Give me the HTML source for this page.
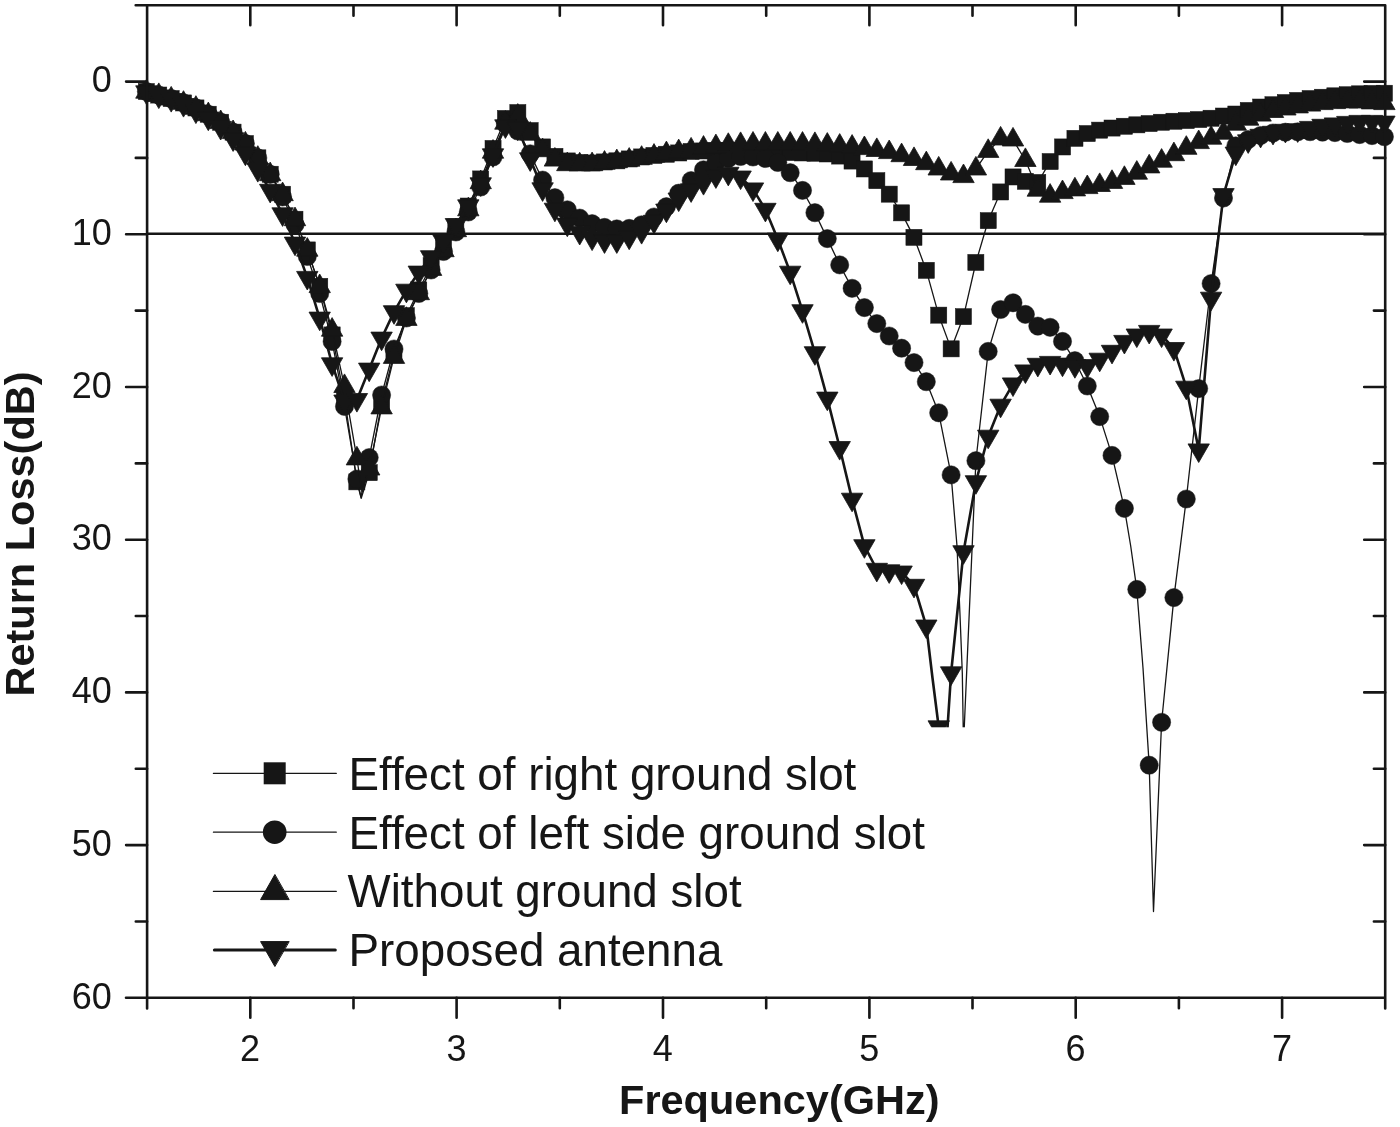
<!DOCTYPE html>
<html lang="en">
<head>
<meta charset="utf-8">
<title>Return Loss vs Frequency</title>
<style>html,body{margin:0;padding:0;background:#fff}svg{display:block}</style>
</head>
<body>
<svg width="1400" height="1127" viewBox="0 0 1400 1127">
<rect width="1400" height="1127" fill="#fff"/>
<g fill="#161616" stroke="#161616" stroke-linejoin="round">
<line x1="147.1" y1="233.7" x2="1385.2" y2="233.7" stroke-width="2.4"/>
<g id="sA"><polyline fill="none" stroke-width="1.3" points="146.4,91.5 158.8,95 171.2,98.6 183.5,102.9 195.9,107.9 208.3,114.3 220.7,122.2 233.1,132.2 245.4,143.6 257.8,157.9 270.2,174.3 282.6,194.3 295,219.3 307.3,250 319.7,286.4 332.1,335 344.5,398 356.9,481.8 361.2,498.4 369.2,472.7 381.6,403 394,354 406.4,315.7 418.8,290 431.1,265.7 443.5,247 455.9,227 468.3,206.1 480.7,179 493,148.5 505.4,118.4 517.8,112.6 530.2,130.6 542.6,147 554.9,156.4 567.3,161 579.7,162.5 592.1,163 604.5,162 616.8,160.8 629.2,159 641.6,157 654,155.5 666.4,154.3 678.7,153 691.1,151.5 703.5,151 715.9,150.5 728.3,150.5 740.6,151 753,151.5 765.4,152 777.8,152.3 790.2,152.6 802.5,153 814.9,153.3 827.3,154 839.7,156.1 852.1,161.1 864.4,169 876.8,180.7 889.2,194.2 901.6,212.9 914,237.4 926.3,270.4 938.7,315.2 951.1,348.9 963.5,316.6 975.9,262.5 988.2,220.7 1000.6,192 1013,177 1025.4,181.4 1037.8,182.5 1050.1,161.6 1062.5,147 1074.9,138.4 1087.3,133.6 1099.7,130.2 1112,128 1124.4,126.3 1136.8,124.8 1149.2,123.5 1161.6,122.3 1173.9,121.3 1186.3,120.5 1198.7,119.5 1211.1,118.3 1223.5,116.1 1235.8,114 1248.2,110.4 1260.6,107.1 1273,104.7 1285.4,102.6 1297.7,100.4 1310.1,98.6 1322.5,97.2 1334.9,95.8 1347.3,94.7 1359.6,93.8 1372,93.4 1384.4,93.2"/><g stroke-width="0.5" stroke-linejoin="miter"><rect x="138.3" y="83.5" width="16.1" height="16.1"/><rect x="150.7" y="87" width="16.1" height="16.1"/><rect x="163.1" y="90.5" width="16.1" height="16.1"/><rect x="175.5" y="94.9" width="16.1" height="16.1"/><rect x="187.9" y="99.9" width="16.1" height="16.1"/><rect x="200.2" y="106.2" width="16.1" height="16.1"/><rect x="212.6" y="114.2" width="16.1" height="16.1"/><rect x="225" y="124.1" width="16.1" height="16.1"/><rect x="237.4" y="135.5" width="16.1" height="16.1"/><rect x="249.8" y="149.8" width="16.1" height="16.1"/><rect x="262.2" y="166.2" width="16.1" height="16.1"/><rect x="274.5" y="186.2" width="16.1" height="16.1"/><rect x="286.9" y="211.2" width="16.1" height="16.1"/><rect x="299.3" y="241.9" width="16.1" height="16.1"/><rect x="311.7" y="278.3" width="16.1" height="16.1"/><rect x="324.1" y="326.9" width="16.1" height="16.1"/><rect x="336.4" y="389.9" width="16.1" height="16.1"/><rect x="348.8" y="473.8" width="16.1" height="16.1"/><rect x="361.2" y="464.6" width="16.1" height="16.1"/><rect x="373.6" y="394.9" width="16.1" height="16.1"/><rect x="385.9" y="345.9" width="16.1" height="16.1"/><rect x="398.3" y="307.6" width="16.1" height="16.1"/><rect x="410.7" y="281.9" width="16.1" height="16.1"/><rect x="423.1" y="257.6" width="16.1" height="16.1"/><rect x="435.5" y="238.9" width="16.1" height="16.1"/><rect x="447.8" y="218.9" width="16.1" height="16.1"/><rect x="460.2" y="198" width="16.1" height="16.1"/><rect x="472.6" y="170.9" width="16.1" height="16.1"/><rect x="485" y="140.4" width="16.1" height="16.1"/><rect x="497.4" y="110.4" width="16.1" height="16.1"/><rect x="509.8" y="104.5" width="16.1" height="16.1"/><rect x="522.1" y="122.5" width="16.1" height="16.1"/><rect x="534.5" y="138.9" width="16.1" height="16.1"/><rect x="546.9" y="148.3" width="16.1" height="16.1"/><rect x="559.3" y="152.9" width="16.1" height="16.1"/><rect x="571.7" y="154.4" width="16.1" height="16.1"/><rect x="584" y="154.9" width="16.1" height="16.1"/><rect x="596.4" y="153.9" width="16.1" height="16.1"/><rect x="608.8" y="152.8" width="16.1" height="16.1"/><rect x="621.2" y="150.9" width="16.1" height="16.1"/><rect x="633.6" y="148.9" width="16.1" height="16.1"/><rect x="645.9" y="147.4" width="16.1" height="16.1"/><rect x="658.3" y="146.2" width="16.1" height="16.1"/><rect x="670.7" y="144.9" width="16.1" height="16.1"/><rect x="683.1" y="143.4" width="16.1" height="16.1"/><rect x="695.5" y="142.9" width="16.1" height="16.1"/><rect x="707.8" y="142.4" width="16.1" height="16.1"/><rect x="720.2" y="142.4" width="16.1" height="16.1"/><rect x="732.6" y="142.9" width="16.1" height="16.1"/><rect x="745" y="143.4" width="16.1" height="16.1"/><rect x="757.4" y="143.9" width="16.1" height="16.1"/><rect x="769.7" y="144.2" width="16.1" height="16.1"/><rect x="782.1" y="144.5" width="16.1" height="16.1"/><rect x="794.5" y="144.9" width="16.1" height="16.1"/><rect x="806.9" y="145.2" width="16.1" height="16.1"/><rect x="819.3" y="145.9" width="16.1" height="16.1"/><rect x="831.6" y="148" width="16.1" height="16.1"/><rect x="844" y="153" width="16.1" height="16.1"/><rect x="856.4" y="160.9" width="16.1" height="16.1"/><rect x="868.8" y="172.6" width="16.1" height="16.1"/><rect x="881.2" y="186.1" width="16.1" height="16.1"/><rect x="893.5" y="204.8" width="16.1" height="16.1"/><rect x="905.9" y="229.3" width="16.1" height="16.1"/><rect x="918.3" y="262.3" width="16.1" height="16.1"/><rect x="930.7" y="307.1" width="16.1" height="16.1"/><rect x="943.1" y="340.8" width="16.1" height="16.1"/><rect x="955.4" y="308.6" width="16.1" height="16.1"/><rect x="967.8" y="254.4" width="16.1" height="16.1"/><rect x="980.2" y="212.6" width="16.1" height="16.1"/><rect x="992.6" y="183.9" width="16.1" height="16.1"/><rect x="1005" y="168.9" width="16.1" height="16.1"/><rect x="1017.3" y="173.3" width="16.1" height="16.1"/><rect x="1029.7" y="174.4" width="16.1" height="16.1"/><rect x="1042.1" y="153.5" width="16.1" height="16.1"/><rect x="1054.5" y="138.9" width="16.1" height="16.1"/><rect x="1066.9" y="130.3" width="16.1" height="16.1"/><rect x="1079.2" y="125.5" width="16.1" height="16.1"/><rect x="1091.6" y="122.1" width="16.1" height="16.1"/><rect x="1104" y="120" width="16.1" height="16.1"/><rect x="1116.4" y="118.2" width="16.1" height="16.1"/><rect x="1128.8" y="116.8" width="16.1" height="16.1"/><rect x="1141.1" y="115.5" width="16.1" height="16.1"/><rect x="1153.5" y="114.2" width="16.1" height="16.1"/><rect x="1165.9" y="113.2" width="16.1" height="16.1"/><rect x="1178.3" y="112.5" width="16.1" height="16.1"/><rect x="1190.7" y="111.5" width="16.1" height="16.1"/><rect x="1203" y="110.2" width="16.1" height="16.1"/><rect x="1215.4" y="108" width="16.1" height="16.1"/><rect x="1227.8" y="106" width="16.1" height="16.1"/><rect x="1240.2" y="102.4" width="16.1" height="16.1"/><rect x="1252.6" y="99" width="16.1" height="16.1"/><rect x="1264.9" y="96.7" width="16.1" height="16.1"/><rect x="1277.3" y="94.5" width="16.1" height="16.1"/><rect x="1289.7" y="92.4" width="16.1" height="16.1"/><rect x="1302.1" y="90.5" width="16.1" height="16.1"/><rect x="1314.5" y="89.2" width="16.1" height="16.1"/><rect x="1326.8" y="87.8" width="16.1" height="16.1"/><rect x="1339.2" y="86.7" width="16.1" height="16.1"/><rect x="1351.6" y="85.8" width="16.1" height="16.1"/><rect x="1364" y="85.4" width="16.1" height="16.1"/><rect x="1376.4" y="85.2" width="16.1" height="16.1"/></g></g>
<g id="sB"><polyline fill="none" stroke-width="1.3" points="146.4,91.5 158.8,95 171.2,98.6 183.5,102.9 195.9,107.9 208.3,114.3 220.7,122.2 233.1,132.2 245.4,143.6 257.8,157.9 270.2,174.3 282.6,197 295,224.5 307.3,256.5 319.7,293.5 332.1,341.5 344.5,406.4 356.9,479 361,497 369.2,457.6 381.6,395 394,349 406.4,318 418.8,293.5 431.1,270 443.5,251.5 455.9,232 468.3,212 480.7,187 493,157 505.4,124 517.8,131 530.2,153.8 542.6,180.1 554.9,197.7 567.3,209.8 579.7,218.1 592.1,223.7 604.5,227.4 616.8,228.9 629.2,228.4 641.6,224.8 654,217 666.4,206.7 678.7,193.2 691.1,180.6 703.5,169.8 715.9,162.5 728.3,158.5 740.6,156.5 753,157 765.4,158.5 777.8,162.5 790.2,172.7 802.5,190.4 814.9,212.7 827.3,238.6 839.7,264.9 852.1,288.3 864.4,307.6 876.8,323.6 889.2,336 901.6,348.2 914,362.6 926.3,381.7 938.7,412.8 951.1,474.9 957,546 960,615 962.3,673 963.5,745 975.9,460.7 988.2,351.4 1000.6,309.5 1013,302.8 1025.4,314.4 1037.8,326.1 1050.1,327.3 1062.5,341.4 1074.9,360.7 1087.3,386 1099.7,416.6 1112,455.4 1124.4,508.4 1130.7,546 1136.8,589.4 1143,668 1149.2,765.2 1153.5,911.5 1161.6,722.3 1173.9,597.6 1186.3,499 1198.7,388.6 1211.1,283.6 1223.5,198 1235.8,145.9 1248.2,139.5 1260.6,135.5 1273,133 1285.4,132.2 1297.7,131.8 1310.1,131.7 1322.5,132.1 1334.9,132.6 1347.3,133.5 1359.6,134.6 1372,135.6 1384.4,136.7"/><g stroke-width="0.5"><circle cx="146.4" cy="91.5" r="9.1"/><circle cx="158.8" cy="95" r="9.1"/><circle cx="171.2" cy="98.6" r="9.1"/><circle cx="183.5" cy="102.9" r="9.1"/><circle cx="195.9" cy="107.9" r="9.1"/><circle cx="208.3" cy="114.3" r="9.1"/><circle cx="220.7" cy="122.2" r="9.1"/><circle cx="233.1" cy="132.2" r="9.1"/><circle cx="245.4" cy="143.6" r="9.1"/><circle cx="257.8" cy="157.9" r="9.1"/><circle cx="270.2" cy="174.3" r="9.1"/><circle cx="282.6" cy="197" r="9.1"/><circle cx="295" cy="224.5" r="9.1"/><circle cx="307.3" cy="256.5" r="9.1"/><circle cx="319.7" cy="293.5" r="9.1"/><circle cx="332.1" cy="341.5" r="9.1"/><circle cx="344.5" cy="406.4" r="9.1"/><circle cx="356.9" cy="479" r="9.1"/><circle cx="369.2" cy="457.6" r="9.1"/><circle cx="381.6" cy="395" r="9.1"/><circle cx="394" cy="349" r="9.1"/><circle cx="406.4" cy="318" r="9.1"/><circle cx="418.8" cy="293.5" r="9.1"/><circle cx="431.1" cy="270" r="9.1"/><circle cx="443.5" cy="251.5" r="9.1"/><circle cx="455.9" cy="232" r="9.1"/><circle cx="468.3" cy="212" r="9.1"/><circle cx="480.7" cy="187" r="9.1"/><circle cx="493" cy="157" r="9.1"/><circle cx="505.4" cy="124" r="9.1"/><circle cx="517.8" cy="131" r="9.1"/><circle cx="530.2" cy="153.8" r="9.1"/><circle cx="542.6" cy="180.1" r="9.1"/><circle cx="554.9" cy="197.7" r="9.1"/><circle cx="567.3" cy="209.8" r="9.1"/><circle cx="579.7" cy="218.1" r="9.1"/><circle cx="592.1" cy="223.7" r="9.1"/><circle cx="604.5" cy="227.4" r="9.1"/><circle cx="616.8" cy="228.9" r="9.1"/><circle cx="629.2" cy="228.4" r="9.1"/><circle cx="641.6" cy="224.8" r="9.1"/><circle cx="654" cy="217" r="9.1"/><circle cx="666.4" cy="206.7" r="9.1"/><circle cx="678.7" cy="193.2" r="9.1"/><circle cx="691.1" cy="180.6" r="9.1"/><circle cx="703.5" cy="169.8" r="9.1"/><circle cx="715.9" cy="162.5" r="9.1"/><circle cx="728.3" cy="158.5" r="9.1"/><circle cx="740.6" cy="156.5" r="9.1"/><circle cx="753" cy="157" r="9.1"/><circle cx="765.4" cy="158.5" r="9.1"/><circle cx="777.8" cy="162.5" r="9.1"/><circle cx="790.2" cy="172.7" r="9.1"/><circle cx="802.5" cy="190.4" r="9.1"/><circle cx="814.9" cy="212.7" r="9.1"/><circle cx="827.3" cy="238.6" r="9.1"/><circle cx="839.7" cy="264.9" r="9.1"/><circle cx="852.1" cy="288.3" r="9.1"/><circle cx="864.4" cy="307.6" r="9.1"/><circle cx="876.8" cy="323.6" r="9.1"/><circle cx="889.2" cy="336" r="9.1"/><circle cx="901.6" cy="348.2" r="9.1"/><circle cx="914" cy="362.6" r="9.1"/><circle cx="926.3" cy="381.7" r="9.1"/><circle cx="938.7" cy="412.8" r="9.1"/><circle cx="951.1" cy="474.9" r="9.1"/><circle cx="963.5" cy="745" r="9.1"/><circle cx="975.9" cy="460.7" r="9.1"/><circle cx="988.2" cy="351.4" r="9.1"/><circle cx="1000.6" cy="309.5" r="9.1"/><circle cx="1013" cy="302.8" r="9.1"/><circle cx="1025.4" cy="314.4" r="9.1"/><circle cx="1037.8" cy="326.1" r="9.1"/><circle cx="1050.1" cy="327.3" r="9.1"/><circle cx="1062.5" cy="341.4" r="9.1"/><circle cx="1074.9" cy="360.7" r="9.1"/><circle cx="1087.3" cy="386" r="9.1"/><circle cx="1099.7" cy="416.6" r="9.1"/><circle cx="1112" cy="455.4" r="9.1"/><circle cx="1124.4" cy="508.4" r="9.1"/><circle cx="1136.8" cy="589.4" r="9.1"/><circle cx="1149.2" cy="765.2" r="9.1"/><circle cx="1161.6" cy="722.3" r="9.1"/><circle cx="1173.9" cy="597.6" r="9.1"/><circle cx="1186.3" cy="499" r="9.1"/><circle cx="1198.7" cy="388.6" r="9.1"/><circle cx="1211.1" cy="283.6" r="9.1"/><circle cx="1223.5" cy="198" r="9.1"/><circle cx="1235.8" cy="145.9" r="9.1"/><circle cx="1248.2" cy="139.5" r="9.1"/><circle cx="1260.6" cy="135.5" r="9.1"/><circle cx="1273" cy="133" r="9.1"/><circle cx="1285.4" cy="132.2" r="9.1"/><circle cx="1297.7" cy="131.8" r="9.1"/><circle cx="1310.1" cy="131.7" r="9.1"/><circle cx="1322.5" cy="132.1" r="9.1"/><circle cx="1334.9" cy="132.6" r="9.1"/><circle cx="1347.3" cy="133.5" r="9.1"/><circle cx="1359.6" cy="134.6" r="9.1"/><circle cx="1372" cy="135.6" r="9.1"/><circle cx="1384.4" cy="136.7" r="9.1"/></g></g>
<g id="sC"><polyline fill="none" stroke-width="1.3" points="146.4,92 158.8,95.3 171.2,98.8 183.5,103.1 195.9,108.1 208.3,114.5 220.7,122.4 233.1,132.4 245.4,143.8 257.8,158.1 270.2,174.5 282.6,194.5 295,219.5 307.3,250 319.7,286.4 332.1,330 344.5,386.3 356.9,458.7 362,492 369.2,468.8 381.6,407.7 394,357.2 406.4,319.2 418.8,293.5 431.1,269.2 443.5,250.5 455.9,230.5 468.3,209.6 480.7,182.5 493,152 505.4,123 517.8,116 530.2,134 542.6,150.5 554.9,159.9 567.3,164.5 579.7,164.7 592.1,164.5 604.5,163 616.8,161.5 629.2,160 641.6,158.1 654,156 666.4,153.5 678.7,151.5 691.1,149.8 703.5,148 715.9,146.5 728.3,145.2 740.6,144.3 753,143.9 765.4,143.9 777.8,143.9 790.2,143.9 802.5,144 814.9,144.3 827.3,145 839.7,146 852.1,147 864.4,148.4 876.8,150.3 889.2,152.4 901.6,155.5 914,159.3 926.3,163.5 938.7,168.8 951.1,173.8 963.5,176.4 975.9,168.8 988.2,151.2 1000.6,138.8 1013,139.8 1025.4,160.3 1037.8,190 1050.1,196 1062.5,192.4 1074.9,189.7 1087.3,187.4 1099.7,185.3 1112,182.2 1124.4,178.2 1136.8,173 1149.2,166.7 1161.6,161 1173.9,154.5 1186.3,148.1 1198.7,142.4 1211.1,138 1223.5,133 1235.8,124 1248.2,119 1260.6,114.9 1273,111.3 1285.4,108.8 1297.7,106.7 1310.1,104.9 1322.5,103.4 1334.9,102.4 1347.3,101.7 1359.6,101.8 1372,102.7 1384.4,103.4"/><g stroke-width="0.8"><polygon points="146.4,79.6 135.7,98.2 157.1,98.2"/><polygon points="158.8,82.9 148.1,101.5 169.5,101.5"/><polygon points="171.2,86.4 160.5,105 181.9,105"/><polygon points="183.5,90.7 172.8,109.3 194.2,109.3"/><polygon points="195.9,95.7 185.2,114.3 206.6,114.3"/><polygon points="208.3,102.1 197.6,120.7 219,120.7"/><polygon points="220.7,110 210,128.6 231.4,128.6"/><polygon points="233.1,120 222.4,138.6 243.8,138.6"/><polygon points="245.4,131.4 234.7,150 256.1,150"/><polygon points="257.8,145.7 247.1,164.3 268.5,164.3"/><polygon points="270.2,162.1 259.5,180.7 280.9,180.7"/><polygon points="282.6,182.1 271.9,200.7 293.3,200.7"/><polygon points="295,207.1 284.3,225.7 305.7,225.7"/><polygon points="307.3,237.6 296.6,256.2 318,256.2"/><polygon points="319.7,274 309,292.6 330.4,292.6"/><polygon points="332.1,317.6 321.4,336.2 342.8,336.2"/><polygon points="344.5,373.9 333.8,392.5 355.2,392.5"/><polygon points="356.9,446.3 346.2,464.9 367.6,464.9"/><polygon points="369.2,456.4 358.5,475 379.9,475"/><polygon points="381.6,395.3 370.9,413.9 392.3,413.9"/><polygon points="394,344.8 383.3,363.4 404.7,363.4"/><polygon points="406.4,306.8 395.7,325.4 417.1,325.4"/><polygon points="418.8,281.1 408.1,299.7 429.5,299.7"/><polygon points="431.1,256.8 420.4,275.4 441.8,275.4"/><polygon points="443.5,238.1 432.8,256.7 454.2,256.7"/><polygon points="455.9,218.1 445.2,236.7 466.6,236.7"/><polygon points="468.3,197.2 457.6,215.8 479,215.8"/><polygon points="480.7,170.1 470,188.7 491.4,188.7"/><polygon points="493,139.6 482.3,158.2 503.7,158.2"/><polygon points="505.4,110.6 494.7,129.2 516.1,129.2"/><polygon points="517.8,103.6 507.1,122.2 528.5,122.2"/><polygon points="530.2,121.6 519.5,140.2 540.9,140.2"/><polygon points="542.6,138.1 531.9,156.7 553.3,156.7"/><polygon points="554.9,147.5 544.2,166.1 565.6,166.1"/><polygon points="567.3,152.1 556.6,170.7 578,170.7"/><polygon points="579.7,152.3 569,170.9 590.4,170.9"/><polygon points="592.1,152.1 581.4,170.7 602.8,170.7"/><polygon points="604.5,150.6 593.8,169.2 615.2,169.2"/><polygon points="616.8,149.1 606.1,167.7 627.5,167.7"/><polygon points="629.2,147.6 618.5,166.2 639.9,166.2"/><polygon points="641.6,145.7 630.9,164.3 652.3,164.3"/><polygon points="654,143.6 643.3,162.2 664.7,162.2"/><polygon points="666.4,141.1 655.7,159.7 677.1,159.7"/><polygon points="678.7,139.1 668,157.7 689.4,157.7"/><polygon points="691.1,137.4 680.4,156 701.8,156"/><polygon points="703.5,135.6 692.8,154.2 714.2,154.2"/><polygon points="715.9,134.1 705.2,152.7 726.6,152.7"/><polygon points="728.3,132.8 717.6,151.4 739,151.4"/><polygon points="740.6,131.9 729.9,150.5 751.3,150.5"/><polygon points="753,131.5 742.3,150.1 763.7,150.1"/><polygon points="765.4,131.5 754.7,150.1 776.1,150.1"/><polygon points="777.8,131.5 767.1,150.1 788.5,150.1"/><polygon points="790.2,131.5 779.5,150.1 800.9,150.1"/><polygon points="802.5,131.6 791.8,150.2 813.2,150.2"/><polygon points="814.9,131.9 804.2,150.5 825.6,150.5"/><polygon points="827.3,132.6 816.6,151.2 838,151.2"/><polygon points="839.7,133.6 829,152.2 850.4,152.2"/><polygon points="852.1,134.6 841.4,153.2 862.8,153.2"/><polygon points="864.4,136 853.7,154.6 875.1,154.6"/><polygon points="876.8,137.9 866.1,156.5 887.5,156.5"/><polygon points="889.2,140 878.5,158.6 899.9,158.6"/><polygon points="901.6,143.1 890.9,161.7 912.3,161.7"/><polygon points="914,146.9 903.3,165.5 924.7,165.5"/><polygon points="926.3,151.1 915.6,169.7 937,169.7"/><polygon points="938.7,156.4 928,175 949.4,175"/><polygon points="951.1,161.4 940.4,180 961.8,180"/><polygon points="963.5,164 952.8,182.6 974.2,182.6"/><polygon points="975.9,156.4 965.2,175 986.6,175"/><polygon points="988.2,138.8 977.5,157.4 998.9,157.4"/><polygon points="1000.6,126.4 989.9,145 1011.3,145"/><polygon points="1013,127.4 1002.3,146 1023.7,146"/><polygon points="1025.4,147.9 1014.7,166.5 1036.1,166.5"/><polygon points="1037.8,177.6 1027.1,196.2 1048.5,196.2"/><polygon points="1050.1,183.6 1039.4,202.2 1060.8,202.2"/><polygon points="1062.5,180 1051.8,198.6 1073.2,198.6"/><polygon points="1074.9,177.3 1064.2,195.9 1085.6,195.9"/><polygon points="1087.3,175 1076.6,193.6 1098,193.6"/><polygon points="1099.7,172.9 1089,191.5 1110.4,191.5"/><polygon points="1112,169.8 1101.3,188.4 1122.7,188.4"/><polygon points="1124.4,165.8 1113.7,184.4 1135.1,184.4"/><polygon points="1136.8,160.6 1126.1,179.2 1147.5,179.2"/><polygon points="1149.2,154.3 1138.5,172.9 1159.9,172.9"/><polygon points="1161.6,148.6 1150.9,167.2 1172.3,167.2"/><polygon points="1173.9,142.1 1163.2,160.7 1184.6,160.7"/><polygon points="1186.3,135.7 1175.6,154.3 1197,154.3"/><polygon points="1198.7,130 1188,148.6 1209.4,148.6"/><polygon points="1211.1,125.6 1200.4,144.2 1221.8,144.2"/><polygon points="1223.5,120.6 1212.8,139.2 1234.2,139.2"/><polygon points="1235.8,111.6 1225.1,130.2 1246.5,130.2"/><polygon points="1248.2,106.6 1237.5,125.2 1258.9,125.2"/><polygon points="1260.6,102.5 1249.9,121.1 1271.3,121.1"/><polygon points="1273,98.9 1262.3,117.5 1283.7,117.5"/><polygon points="1285.4,96.4 1274.7,115 1296.1,115"/><polygon points="1297.7,94.3 1287,112.9 1308.4,112.9"/><polygon points="1310.1,92.5 1299.4,111.1 1320.8,111.1"/><polygon points="1322.5,91 1311.8,109.6 1333.2,109.6"/><polygon points="1334.9,90 1324.2,108.6 1345.6,108.6"/><polygon points="1347.3,89.3 1336.6,107.9 1358,107.9"/><polygon points="1359.6,89.4 1348.9,108 1370.3,108"/><polygon points="1372,90.3 1361.3,108.9 1382.7,108.9"/><polygon points="1384.4,91 1373.7,109.6 1395.1,109.6"/></g></g>
<g id="sD"><polyline fill="none" stroke-width="2.6" points="146.4,92 158.8,96.2 171.2,99.7 183.5,104.7 195.9,111.2 208.3,118.3 220.7,127.6 233.1,139 245.4,153.3 257.8,169.7 270.2,190.5 282.6,214 295,243.3 307.3,277.6 319.7,318.3 332.1,364 344.5,401.2 356.9,399.7 369.2,369.3 381.6,338.3 394,311.9 406.4,290.4 418.8,272.3 431.1,256.9 443.5,241.1 455.9,224.7 468.3,206 480.7,184 493,155 505.4,126 517.8,128.3 530.2,159 542.6,189 554.9,209.4 567.3,224.3 579.7,232.6 592.1,238.2 604.5,241 616.8,241 629.2,237.3 641.6,231.7 654,221.5 666.4,210.3 678.7,199.2 691.1,190 703.5,182.7 715.9,176 728.3,173.5 740.6,177.2 753,189.1 765.4,209.5 777.8,239.3 790.2,272.4 802.5,310.9 814.9,352.9 827.3,398.3 839.7,447.7 852.1,499.4 864.4,545.9 876.8,569.5 889.2,571 901.6,572.2 914,585.5 926.3,626.2 932.5,678 938.7,727 944,771 947.5,728 951.1,673 963.5,551.9 975.9,481.9 988.2,436.4 1000.6,405.4 1013,384.1 1025.4,371.1 1037.8,364.5 1050.1,362.6 1062.5,364.3 1074.9,365.8 1087.3,365.8 1099.7,359.4 1112,351.5 1124.4,341.6 1136.8,335.2 1149.2,331.6 1161.6,335.2 1173.9,348.7 1186.3,387.4 1198.7,450.1 1211.1,298.4 1223.5,194.8 1235.8,153.3 1248.2,141 1260.6,135.5 1273,132.5 1285.4,130.5 1297.7,130 1310.1,127.6 1322.5,125.5 1334.9,124.1 1347.3,122.6 1359.6,121.6 1372,121.6 1384.4,122.3"/><g stroke-width="0.8"><polygon points="146.4,104.4 135.7,85.8 157.1,85.8"/><polygon points="158.8,108.6 148.1,90 169.5,90"/><polygon points="171.2,112.1 160.5,93.5 181.9,93.5"/><polygon points="183.5,117.1 172.8,98.5 194.2,98.5"/><polygon points="195.9,123.6 185.2,105 206.6,105"/><polygon points="208.3,130.7 197.6,112.1 219,112.1"/><polygon points="220.7,140 210,121.4 231.4,121.4"/><polygon points="233.1,151.4 222.4,132.8 243.8,132.8"/><polygon points="245.4,165.7 234.7,147.1 256.1,147.1"/><polygon points="257.8,182.1 247.1,163.5 268.5,163.5"/><polygon points="270.2,202.9 259.5,184.3 280.9,184.3"/><polygon points="282.6,226.4 271.9,207.8 293.3,207.8"/><polygon points="295,255.7 284.3,237.1 305.7,237.1"/><polygon points="307.3,290 296.6,271.4 318,271.4"/><polygon points="319.7,330.7 309,312.1 330.4,312.1"/><polygon points="332.1,376.4 321.4,357.8 342.8,357.8"/><polygon points="344.5,413.6 333.8,395 355.2,395"/><polygon points="356.9,412.1 346.2,393.5 367.6,393.5"/><polygon points="369.2,381.7 358.5,363.1 379.9,363.1"/><polygon points="381.6,350.7 370.9,332.1 392.3,332.1"/><polygon points="394,324.3 383.3,305.7 404.7,305.7"/><polygon points="406.4,302.8 395.7,284.2 417.1,284.2"/><polygon points="418.8,284.7 408.1,266.1 429.5,266.1"/><polygon points="431.1,269.3 420.4,250.7 441.8,250.7"/><polygon points="443.5,253.5 432.8,234.9 454.2,234.9"/><polygon points="455.9,237.1 445.2,218.5 466.6,218.5"/><polygon points="468.3,218.4 457.6,199.8 479,199.8"/><polygon points="480.7,196.4 470,177.8 491.4,177.8"/><polygon points="493,167.4 482.3,148.8 503.7,148.8"/><polygon points="505.4,138.4 494.7,119.8 516.1,119.8"/><polygon points="517.8,140.7 507.1,122.1 528.5,122.1"/><polygon points="530.2,171.4 519.5,152.8 540.9,152.8"/><polygon points="542.6,201.4 531.9,182.8 553.3,182.8"/><polygon points="554.9,221.8 544.2,203.2 565.6,203.2"/><polygon points="567.3,236.7 556.6,218.1 578,218.1"/><polygon points="579.7,245 569,226.4 590.4,226.4"/><polygon points="592.1,250.6 581.4,232 602.8,232"/><polygon points="604.5,253.4 593.8,234.8 615.2,234.8"/><polygon points="616.8,253.4 606.1,234.8 627.5,234.8"/><polygon points="629.2,249.7 618.5,231.1 639.9,231.1"/><polygon points="641.6,244.1 630.9,225.5 652.3,225.5"/><polygon points="654,233.9 643.3,215.3 664.7,215.3"/><polygon points="666.4,222.7 655.7,204.1 677.1,204.1"/><polygon points="678.7,211.6 668,193 689.4,193"/><polygon points="691.1,202.4 680.4,183.8 701.8,183.8"/><polygon points="703.5,195.1 692.8,176.5 714.2,176.5"/><polygon points="715.9,188.4 705.2,169.8 726.6,169.8"/><polygon points="728.3,185.9 717.6,167.3 739,167.3"/><polygon points="740.6,189.6 729.9,171 751.3,171"/><polygon points="753,201.5 742.3,182.9 763.7,182.9"/><polygon points="765.4,221.9 754.7,203.3 776.1,203.3"/><polygon points="777.8,251.7 767.1,233.1 788.5,233.1"/><polygon points="790.2,284.8 779.5,266.2 800.9,266.2"/><polygon points="802.5,323.3 791.8,304.7 813.2,304.7"/><polygon points="814.9,365.3 804.2,346.7 825.6,346.7"/><polygon points="827.3,410.7 816.6,392.1 838,392.1"/><polygon points="839.7,460.1 829,441.5 850.4,441.5"/><polygon points="852.1,511.8 841.4,493.2 862.8,493.2"/><polygon points="864.4,558.3 853.7,539.7 875.1,539.7"/><polygon points="876.8,581.9 866.1,563.3 887.5,563.3"/><polygon points="889.2,583.4 878.5,564.8 899.9,564.8"/><polygon points="901.6,584.6 890.9,566 912.3,566"/><polygon points="914,597.9 903.3,579.3 924.7,579.3"/><polygon points="926.3,638.6 915.6,620 937,620"/><polygon points="938.7,739.4 928,720.8 949.4,720.8"/><polygon points="951.1,685.4 940.4,666.8 961.8,666.8"/><polygon points="963.5,564.3 952.8,545.7 974.2,545.7"/><polygon points="975.9,494.3 965.2,475.7 986.6,475.7"/><polygon points="988.2,448.8 977.5,430.2 998.9,430.2"/><polygon points="1000.6,417.8 989.9,399.2 1011.3,399.2"/><polygon points="1013,396.5 1002.3,377.9 1023.7,377.9"/><polygon points="1025.4,383.5 1014.7,364.9 1036.1,364.9"/><polygon points="1037.8,376.9 1027.1,358.3 1048.5,358.3"/><polygon points="1050.1,375 1039.4,356.4 1060.8,356.4"/><polygon points="1062.5,376.7 1051.8,358.1 1073.2,358.1"/><polygon points="1074.9,378.2 1064.2,359.6 1085.6,359.6"/><polygon points="1087.3,378.2 1076.6,359.6 1098,359.6"/><polygon points="1099.7,371.8 1089,353.2 1110.4,353.2"/><polygon points="1112,363.9 1101.3,345.3 1122.7,345.3"/><polygon points="1124.4,354 1113.7,335.4 1135.1,335.4"/><polygon points="1136.8,347.6 1126.1,329 1147.5,329"/><polygon points="1149.2,344 1138.5,325.4 1159.9,325.4"/><polygon points="1161.6,347.6 1150.9,329 1172.3,329"/><polygon points="1173.9,361.1 1163.2,342.5 1184.6,342.5"/><polygon points="1186.3,399.8 1175.6,381.2 1197,381.2"/><polygon points="1198.7,462.5 1188,443.9 1209.4,443.9"/><polygon points="1211.1,310.8 1200.4,292.2 1221.8,292.2"/><polygon points="1223.5,207.2 1212.8,188.6 1234.2,188.6"/><polygon points="1235.8,165.7 1225.1,147.1 1246.5,147.1"/><polygon points="1248.2,153.4 1237.5,134.8 1258.9,134.8"/><polygon points="1260.6,147.9 1249.9,129.3 1271.3,129.3"/><polygon points="1273,144.9 1262.3,126.3 1283.7,126.3"/><polygon points="1285.4,142.9 1274.7,124.3 1296.1,124.3"/><polygon points="1297.7,142.4 1287,123.8 1308.4,123.8"/><polygon points="1310.1,140 1299.4,121.4 1320.8,121.4"/><polygon points="1322.5,137.9 1311.8,119.3 1333.2,119.3"/><polygon points="1334.9,136.5 1324.2,117.9 1345.6,117.9"/><polygon points="1347.3,135 1336.6,116.4 1358,116.4"/><polygon points="1359.6,134 1348.9,115.4 1370.3,115.4"/><polygon points="1372,134 1361.3,115.4 1382.7,115.4"/><polygon points="1384.4,134.7 1373.7,116.1 1395.1,116.1"/></g></g>
</g>
<rect x="204" y="727.3" width="790" height="262" fill="#fff"/>
<g fill="#161616" stroke="#161616" stroke-linecap="round">
<g fill="none" stroke-width="2.6">
<path d="M135.7 5.3 H1385.2 M147.1 5.3 V1008.4 M1385.2 5.3 V1008.4 M126 997.7 H1385.2" stroke-linecap="round"/>
<path d="M250.3 997.7 v20 M250.3 5.3 v20"/>
<path d="M353.5 997.7 v10.5 M353.5 5.3 v10.5"/>
<path d="M456.6 997.7 v20 M456.6 5.3 v20"/>
<path d="M559.8 997.7 v10.5 M559.8 5.3 v10.5"/>
<path d="M663 997.7 v20 M663 5.3 v20"/>
<path d="M766.2 997.7 v10.5 M766.2 5.3 v10.5"/>
<path d="M869.4 997.7 v20 M869.4 5.3 v20"/>
<path d="M972.5 997.7 v10.5 M972.5 5.3 v10.5"/>
<path d="M1075.7 997.7 v20 M1075.7 5.3 v20"/>
<path d="M1178.9 997.7 v10.5 M1178.9 5.3 v10.5"/>
<path d="M1282.1 997.7 v20 M1282.1 5.3 v20"/>
<path d="M147.1 81.6 h-21 M1385.2 81.6 h-21"/>
<path d="M147.1 157.9 h-11.3 M1385.2 157.9 h-11.3"/>
<path d="M147.1 234.3 h-21 M1385.2 234.3 h-21"/>
<path d="M147.1 310.6 h-11.3 M1385.2 310.6 h-11.3"/>
<path d="M147.1 387 h-21 M1385.2 387 h-21"/>
<path d="M147.1 463.4 h-11.3 M1385.2 463.4 h-11.3"/>
<path d="M147.1 539.7 h-21 M1385.2 539.7 h-21"/>
<path d="M147.1 616 h-11.3 M1385.2 616 h-11.3"/>
<path d="M147.1 692.4 h-21 M1385.2 692.4 h-21"/>
<path d="M147.1 768.8 h-11.3 M1385.2 768.8 h-11.3"/>
<path d="M147.1 845.1 h-21 M1385.2 845.1 h-21"/>
<path d="M147.1 921.5 h-11.3 M1385.2 921.5 h-11.3"/>
</g>
<g stroke-width="1.2"><line x1="213.4" y1="773.4" x2="336.3" y2="773.4"/><line x1="213.4" y1="832.2" x2="336.3" y2="832.2"/><line x1="213.4" y1="891.4" x2="336.3" y2="891.4"/></g>
<line x1="214.4" y1="950" x2="335.3" y2="950" stroke-width="3"/>
<g stroke-linejoin="round" stroke-width="1">
<rect x="263.7" y="762.3" width="22" height="22" stroke="none"/>
<circle cx="274.7" cy="832.2" r="11.8" stroke="none"/>
<polygon points="274.7,874.8 260.6,899.6 288.8,899.6"/>
<polygon points="274.7,966.2 260.6,941.6 288.8,941.6"/>
</g>
</g>
<g fill="#161616" font-family="'Liberation Sans', Arial, Helvetica, sans-serif">
<g font-size="36px" text-anchor="middle">
<text x="250.1" y="1061.3">2</text>
<text x="456.4" y="1061.3">3</text>
<text x="662.8" y="1061.3">4</text>
<text x="869.2" y="1061.3">5</text>
<text x="1075.5" y="1061.3">6</text>
<text x="1281.9" y="1061.3">7</text>
</g>
<g font-size="36px" text-anchor="end">
<text x="111.9" y="92.3">0</text>
<text x="111.9" y="245">10</text>
<text x="111.9" y="397.7">20</text>
<text x="111.9" y="550.4">30</text>
<text x="111.9" y="703.1">40</text>
<text x="111.9" y="855.8">50</text>
<text x="111.9" y="1008.5">60</text>
</g>
<g font-size="45.75px">
<text x="348.5" y="790">Effect of right ground slot</text>
<text x="348.5" y="848.6">Effect of left side ground slot</text>
<text x="347.5" y="907.3">Without ground slot</text>
<text x="348.5" y="966.3">Proposed antenna</text>
</g>
<text x="779.3" y="1113.7" font-size="41.5px" font-weight="bold" text-anchor="middle">Frequency(GHz)</text>
<text transform="translate(34.2 534) rotate(-90)" font-size="41.5px" font-weight="bold" text-anchor="middle">Return Loss(dB)</text>
</g>
</svg>
</body>
</html>
